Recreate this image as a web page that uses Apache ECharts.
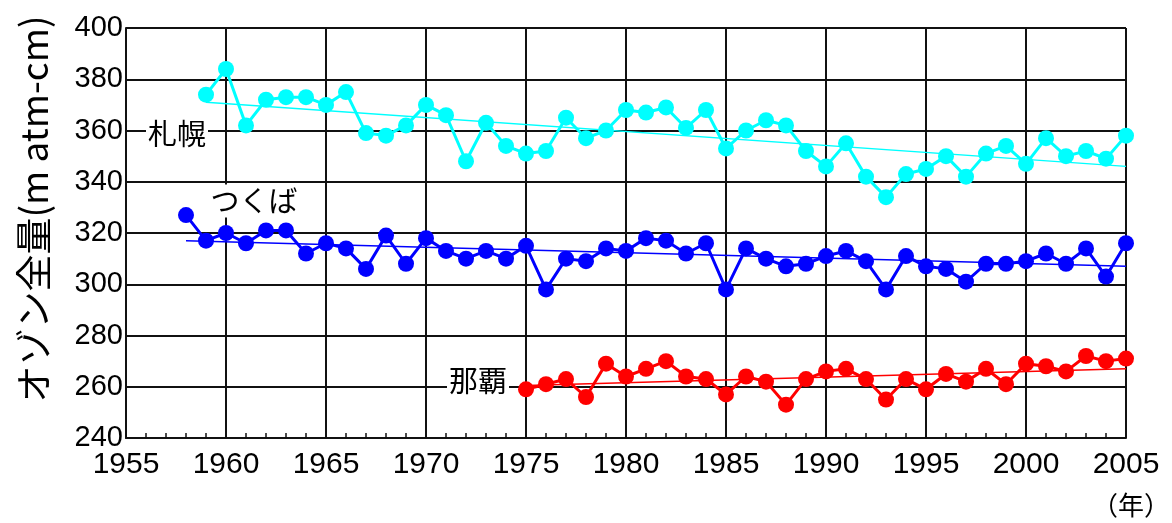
<!DOCTYPE html>
<html>
<head>
<meta charset="utf-8">
<script src="https://cdn.jsdelivr.net/npm/echarts@6/dist/echarts.min.js"></script>
<style>
html, body { margin: 0; padding: 0; background: #fff; }
#chart { width: 1172px; height: 523px; }
</style>
</head>
<body>
<div id="chart"></div>
<script>
// observation years per station
var yearsSapporo = [1959,1960,1961,1962,1963,1964,1965,1966,1967,1968,1969,1970,1971,1972,1973,1974,1975,1976,1977,1978,1979,1980,1981,1982,1983,1984,1985,1986,1987,1988,1989,1990,1991,1992,1993,1994,1995,1996,1997,1998,1999,2000,2001,2002,2003,2004,2005];
var valuesSapporo = [374,384,362,372,373,373,370,375,359,358,362,370,366,348,363,354,351,352,365,357,360,368,367,369,361,368,353,360,364,362,352,346,355,342,334,343,345,350,342,351,354,347,357,350,352,349,358];

var yearsTsukuba = [1958,1959,1960,1961,1962,1963,1964,1965,1966,1967,1968,1969,1970,1971,1972,1973,1974,1975,1976,1977,1978,1979,1980,1981,1982,1983,1984,1985,1986,1987,1988,1989,1990,1991,1992,1993,1994,1995,1996,1997,1998,1999,2000,2001,2002,2003,2004,2005];
var valuesTsukuba = [327,317,320,316,321,321,312,316,314,306,319,308,318,313,310,313,310,315,298,310,309,314,313,318,317,312,316,298,314,310,307,308,311,313,309,298,311,307,306,301,308,308,309,312,308,314,303,316];

var yearsNaha = [1975,1976,1977,1978,1979,1980,1981,1982,1983,1984,1985,1986,1987,1988,1989,1990,1991,1992,1993,1994,1995,1996,1997,1998,1999,2000,2001,2002,2003,2004,2005];
var valuesNaha = [259,261,263,256,269,264,267,270,264,263,257,264,262,253,263,266,267,263,255,263,259,265,262,267,261,269,268,266,272,270,271];

// trend lines: [start year, end year], [start value, end value]
var trendSapporoYears = [1959, 2005];
var trendSapporoValues = [371, 346];
var trendTsukubaYears = [1958, 2005];
var trendTsukubaValues = [317, 307];
var trendNahaYears = [1975, 2005];
var trendNahaValues = [260.5, 267];

var yTicks = [240, 400, 20];
var xTicks = [1955, 2005, 5];

function pairs(xs, ys) {
	var out = [], i;
	for (i = 0; i < xs.length; i++)
		out.push([xs[i], ys[i]]);
	return out;
}

var labelFont = '"Liberation Sans", Arial, sans-serif';
var jpFont = '"Noto Sans CJK JP", sans-serif';
var gridColor = '#111';

function dataSeries(name, color, xs, ys) {
	return {
		name: name,
		type: 'line',
		data: pairs(xs, ys),
		symbol: 'circle',
		symbolSize: 16,
		itemStyle: { color: color },
		lineStyle: { color: color, width: 3 },
		z: 3,
		animation: false
	};
}

function trendSeries(color, xs, ys) {
	return {
		type: 'line',
		data: pairs(xs, ys),
		symbol: 'none',
		lineStyle: { color: color, width: 1.5 },
		z: 2,
		animation: false
	};
}

var chart = echarts.init(document.getElementById('chart'), null, { renderer: 'canvas' });

var option = {
	backgroundColor: '#fff',
	animation: false,
	grid: { left: 126, right: 46, top: 28, bottom: 85 },
	xAxis: {
		type: 'value',
		min: xTicks[0],
		max: xTicks[1],
		interval: xTicks[2],
		axisLine: { show: true, lineStyle: { color: gridColor, width: 2 } },
		axisTick: { show: true, inside: true, length: 5, lineStyle: { color: gridColor, width: 1.5 } },
		minorTick: { show: true, splitNumber: 5, length: 5, lineStyle: { color: gridColor, width: 1.5 } },
		splitLine: { show: true, lineStyle: { color: gridColor, width: 2 } },
		axisLabel: {
			margin: 12,
			fontSize: 30,
			color: '#000',
			fontFamily: labelFont,
			formatter: function (v) { return String(v); }
		}
	},
	yAxis: {
		type: 'value',
		min: yTicks[0],
		max: yTicks[1],
		interval: yTicks[2],
		axisLine: { show: true, lineStyle: { color: gridColor, width: 2 } },
		axisTick: { show: false },
		splitLine: { show: true, lineStyle: { color: gridColor, width: 2 } },
		axisLabel: {
			margin: 3,
			fontSize: 29,
			color: '#000',
			fontFamily: labelFont,
			padding: [0, 0, 8, 0]
		}
	},
	series: [
		trendSeries('#00ffff', trendSapporoYears, trendSapporoValues),
		trendSeries('#0000ff', trendTsukubaYears, trendTsukubaValues),
		trendSeries('#ff0000', trendNahaYears, trendNahaValues),
		dataSeries('札幌', '#00ffff', yearsSapporo, valuesSapporo),
		dataSeries('つくば', '#0000ff', yearsTsukuba, valuesTsukuba),
		dataSeries('那覇', '#ff0000', yearsNaha, valuesNaha)
	],
	graphic: [
		{
			type: 'text',
			x: 34, y: 209,
			rotation: Math.PI / 2,
			style: {
				text: 'オゾン全量(m atm-cm)',
				font: '37px ' + jpFont,
				fill: '#000',
				align: 'center',
				verticalAlign: 'middle'
			}
		},
		{
			type: 'text',
			x: 177, y: 134, z: 10,
			style: {
				text: '札幌', font: '29px ' + jpFont, fill: '#000',
				align: 'center', verticalAlign: 'middle',
				backgroundColor: '#fff', padding: [0, 2]
			}
		},
		{
			type: 'text',
			x: 254, y: 201, z: 10,
			style: {
				text: 'つくば', font: '29px ' + jpFont, fill: '#000',
				align: 'center', verticalAlign: 'middle',
				backgroundColor: '#fff', padding: [2, 2]
			}
		},
		{
			type: 'text',
			x: 478, y: 381, z: 10,
			style: {
				text: '那覇', font: '29px ' + jpFont, fill: '#000',
				align: 'center', verticalAlign: 'middle',
				backgroundColor: '#fff', padding: [0, 2]
			}
		},
		{
			type: 'text',
			x: 1131, y: 505,
			style: {
				text: '（年）', font: '26px ' + jpFont, fill: '#000',
				align: 'center', verticalAlign: 'middle'
			}
		}
	]
};

chart.setOption(option);
</script>
</body>
</html>
